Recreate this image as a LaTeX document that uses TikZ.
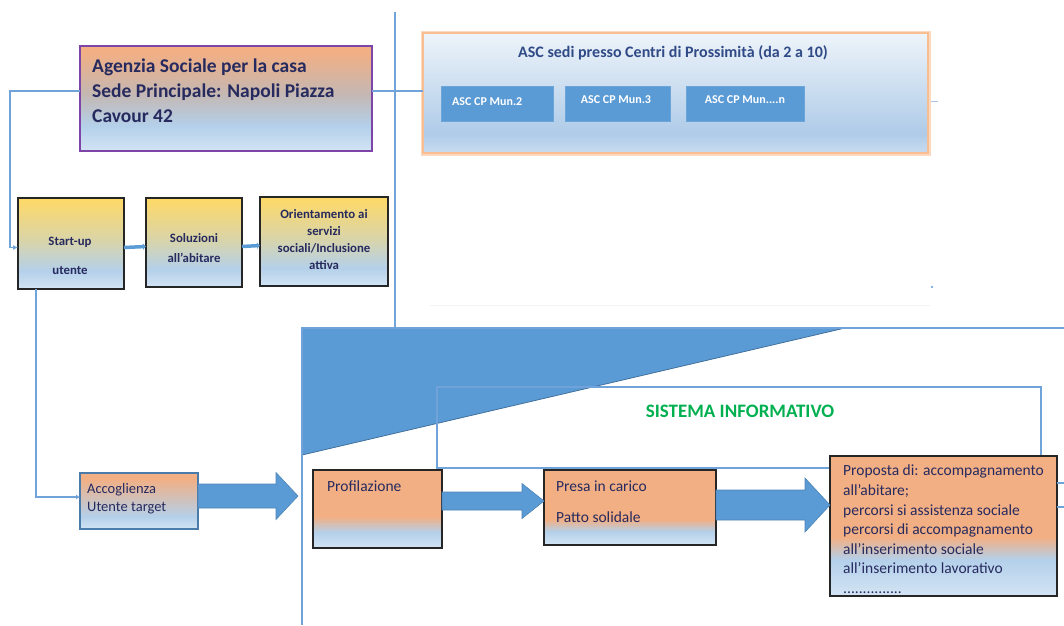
\documentclass[tikz,border=0pt]{standalone}
\usepackage{fontspec}
\setmainfont{Carlito}
\usetikzlibrary{calc,arrows.meta}
\definecolor{orng}{HTML}{F2AF84}
\definecolor{lblue}{HTML}{B4D0EA}
\definecolor{vlblue}{HTML}{D3E4F4}
\definecolor{yel}{HTML}{FFD966}
\definecolor{mblue}{HTML}{5B9BD5}
\definecolor{dblue}{HTML}{41719C}
\definecolor{navy}{HTML}{262A5E}
\definecolor{ascnavy}{HTML}{2F4A86}
\definecolor{lineblue}{HTML}{6FA3DA}
\definecolor{purp}{HTML}{7E45A8}
\definecolor{grn}{HTML}{00B050}
\definecolor{ascglow}{HTML}{F8BE92}
\definecolor{asctop}{HTML}{EEF4FA}
\definecolor{ascmid}{HTML}{AFCBE8}
\definecolor{ascbot}{HTML}{C8DCF0}
\colorlet{mixob}{lblue!55!orng!85!gray}
\colorlet{mixyb}{yel!50!lblue}
\pgfdeclareverticalshading{agsh}{100bp}{color(0bp)=(vlblue); color(25bp)=(vlblue); color(37bp)=(lblue); color(52bp)=(mixob); color(72bp)=(orng); color(100bp)=(orng)}
\pgfdeclareverticalshading{sush}{100bp}{color(0bp)=(vlblue); color(25bp)=(vlblue); color(35bp)=(lblue); color(52bp)=(mixyb); color(75bp)=(yel); color(100bp)=(yel)}
\pgfdeclareverticalshading{acsh}{100bp}{color(0bp)=(vlblue); color(25bp)=(vlblue); color(36bp)=(lblue); color(70bp)=(orng); color(100bp)=(orng)}
\pgfdeclareverticalshading{pfsh}{100bp}{color(0bp)=(vlblue); color(25bp)=(vlblue); color(35bp)=(lblue); color(45bp)=(orng); color(100bp)=(orng)}
\pgfdeclareverticalshading{pcsh}{100bp}{color(0bp)=(vlblue); color(25bp)=(vlblue); color(34bp)=(lblue); color(42bp)=(orng); color(100bp)=(orng)}
\pgfdeclareverticalshading{ppsh}{100bp}{color(0bp)=(vlblue); color(25bp)=(vlblue); color(38bp)=(lblue); color(46bp)=(orng); color(100bp)=(orng)}
\pgfdeclareverticalshading{ascsh}{100bp}{color(0bp)=(ascbot); color(25bp)=(ascbot); color(33bp)=(ascmid); color(75bp)=(asctop); color(100bp)=(asctop)}
\newcommand\blockarrow[5]{%
  \path[blockarr] let \p1=#1, \p2=#2 in
    (\x1,{\y1+#3pt}) -- ({\x2-#5pt},{\y1+#3pt}) -- ({\x2-#5pt},{\y1+#4pt}) --
    (\x2,\y1) -- ({\x2-#5pt},{\y1-#4pt}) -- ({\x2-#5pt},{\y1-#3pt}) --
    (\x1,{\y1-#3pt}) -- cycle;}
\begin{document}
\begin{tikzpicture}[x=1pt,y=-1pt,
  box/.style={anchor=north west, inner sep=0pt, outer sep=0pt},
  thinline/.style={draw=lineblue, line width=1.3pt},
  thickconn/.style={draw=mblue, line width=3.5pt, -{Latex[length=3pt,width=7pt]}},
  blockarr/.style={fill=mblue, draw=mblue!85!black, line width=0.6pt},
  stbox/.style={box, draw=black!85, line width=1.6pt, shade, shading=sush},
  stxt/.style={text=navy, font=\fontsize{12.8}{15}\selectfont\bfseries, inner sep=0pt, align=center},
  muntxt/.style={text=white, font=\fontsize{12}{14}\selectfont\bfseries, inner sep=0pt},
  munbox/.style={box, fill=mblue, draw=mblue!90!white, line width=0.6pt},
  flowbox/.style={box, draw=black!85, line width=1.6pt},
  ftxt/.style={anchor=north west, inner sep=0pt, text=navy, font=\fontsize{15.5}{19.6}\selectfont, align=left}
]
\useasboundingbox (0,0) rectangle (1064,625);

% coordinates for free ends
\coordinate (lx) at (10,0);
\coordinate (vt) at (395,12);
\coordinate (rg) at (302,328);
\coordinate (rgb) at (302,625);
\coordinate (rgr) at (1064,328);
\coordinate (tri1) at (845,328);
\coordinate (tri2) at (302,455);

% faint decorations
\draw[gray!10, line width=0.8pt] (430,305) -- (930,305);
\fill[mblue] (932,287) circle (1.1);

% big lower region and triangle
\filldraw[fill=mblue, draw=dblue, line width=0.8pt] (rg) -- (tri1) -- (tri2) -- cycle;
\draw[dblue, line width=2pt] (rg) -- (tri1);
\draw[thinline] (rgb) -- (rg) -- (rgr);

% vertical connector x=395
\draw[thinline] (vt) -- (vt |- rg);

% Sistema informativo frame
\node[box, draw=lineblue, line width=1.2pt, minimum width=604pt, minimum height=81pt] (si) at (437,387) {};
\node[text=grn, font=\fontsize{19}{21}\selectfont\bfseries] (sit) at (740,411) {SISTEMA INFORMATIVO};

% Agency
\node[box, draw=purp, line width=1.5pt, shade, shading=agsh, minimum width=292pt, minimum height=105pt] (ag) at (80,46) {};
\node[anchor=north west, inner sep=0pt, text=navy, align=left, font=\fontsize{19.5}{25}\selectfont\bfseries] (agt) at (92,59) {Agenzia Sociale per la casa\\Sede Principale: Napoli Piazza\\Cavour 42};
\coordinate (agl) at ($(ag.north west)+(0,45)$);
\coordinate (agr) at ($(ag.north east)+(0,45)$);

% ASC box
\node[box, draw=ascglow!60, line width=5pt, minimum width=505pt, minimum height=120pt] (ascg) at (423,33) {};
\node[box, draw=ascglow, line width=2pt, shade, shading=ascsh, minimum width=505pt, minimum height=120pt] (asc) at (423,33) {};
\node[text=ascnavy, font=\fontsize{16}{18}\selectfont\bfseries] (asct) at (673,53) {ASC sedi presso Centri di Prossimità (da 2 a 10)};
\node[munbox, minimum width=112pt, minimum height=35pt] (m2) at (441,86) {};
\node[munbox, minimum width=105pt, minimum height=35pt] (m3) at (565,86) {};
\node[munbox, minimum width=118pt, minimum height=35pt] (mn) at (686,86) {};
\node[muntxt, anchor=west] (m2t) at (452,102) {ASC CP Mun.2};
\node[muntxt] (m3t) at (616,100) {ASC CP Mun.3};
\node[muntxt] (mnt) at (745,100) {ASC CP Mun....n};
\draw[lineblue!60, line width=1pt] ($(asc.east)+(3,8)$) -- ($(asc.east)+(10,8)$);

% agency connectors
\draw[thinline] (agr) -- (agr -| asc.west);

% Start-up row
\node[stbox, minimum width=106pt, minimum height=91pt] (su) at (18,198) {};
\node[stbox, minimum width=96pt, minimum height=89pt] (so) at (146,198) {};
\node[stbox, minimum width=128pt, minimum height=89pt] (or) at (260,197) {};
\node[stxt] (sut1) at (70,242) {Start-up};
\node[stxt] (sut2) at (70,270) {utente};
\node[stxt, font=\fontsize{12.8}{20}\selectfont\bfseries] (sot) at (194,248) {Soluzioni\\all'abitare};
\node[stxt, font=\fontsize{12.8}{17}\selectfont\bfseries] (ort) at (324,240) {Orientamento ai\\servizi\\sociali/Inclusione\\attiva};
\draw[thickconn] ($(su.east)+(0,4)$) -- ($(so.west)+(0,4)$);
\draw[thickconn] ($(so.east)+(0,4)$) -- ($(or.west)+(0,4)$);
\draw[thinline, -{Latex[length=5pt,width=5pt]}] (agl) -- (agl -| lx) |- ($(su.west)+(0,4)$);

% Accoglienza
\node[box, draw=mblue!80!black, line width=1.3pt, shade, shading=acsh, minimum width=118pt, minimum height=56pt] (ac) at (80,473) {};
\node[ftxt, font=\fontsize{14.5}{18}\selectfont] (act) at (87,483) {Accoglienza\\Utente target};
\draw[thinline, -{Latex[length=4pt,width=5pt]}] ($(su.south west)+(18,0)$) |- ($(ac.north west)+(0,24)$);

% Flow boxes
\node[flowbox, shade, shading=pfsh, minimum width=129pt, minimum height=78pt] (pf) at (313,470) {};
\node[ftxt] (pft) at (327,481) {Profilazione};
\node[flowbox, shade, shading=pcsh, minimum width=172pt, minimum height=75pt] (pc) at (544,470) {};
\node[ftxt, font=\fontsize{15.5}{31}\selectfont] (pct) at (556,481) {Presa in carico\\Patto solidale};
\node[flowbox, shade, shading=ppsh, minimum width=227pt, minimum height=140pt] (pp) at (830,456) {};
\node[ftxt] (ppt) at (843,465) {Proposta di: accompagnamento\\all'abitare;\\percorsi si assistenza sociale\\percorsi di accompagnamento\\all'inserimento sociale\\all'inserimento lavorativo\\...............};
\draw[thinline] ($(pp.north east)+(0,27)$) -- ($(pp.north east)+(8,27)$);
\draw[thinline] ($(pp.north east)+(0,51)$) -- ($(pp.north east)+(8,51)$);

% Block arrows
\coordinate (a1s) at ($(ac.north east)+(0,23)$);
\coordinate (a1e) at (a1s -| 298,0);
\blockarrow{(a1s)}{(a1e)}{12}{23.5}{22}
\coordinate (a2s) at ($(pf.north east)+(0,31)$);
\coordinate (a2e) at (a2s -| pc.west);
\blockarrow{(a2s)}{(a2e)}{9}{17.5}{22}
\coordinate (a3s) at ($(pc.north east)+(0,35)$);
\coordinate (a3e) at (a3s -| pp.west);
\blockarrow{(a3s)}{(a3e)}{15}{27}{25}
\end{tikzpicture}
\end{document}
